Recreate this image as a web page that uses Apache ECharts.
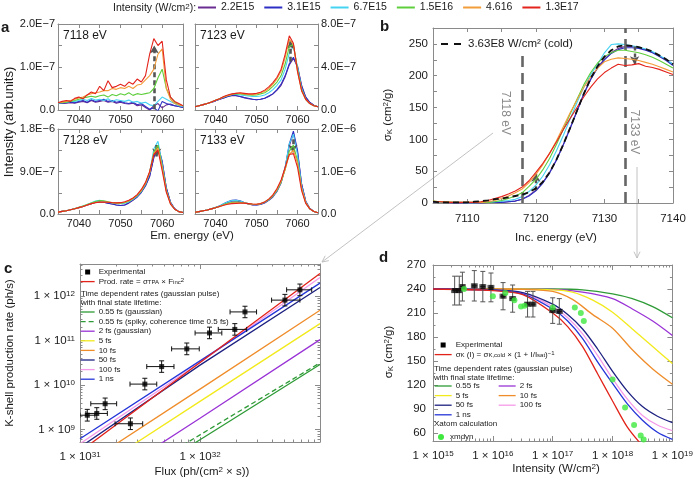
<!DOCTYPE html>
<html><head><meta charset="utf-8">
<script src="https://cdn.jsdelivr.net/npm/echarts@6/dist/echarts.min.js"></script>
<style>html,body{margin:0;padding:0;background:#fff}#c{width:696px;height:482px}</style>
</head><body><div id="c"></div><script>
// ================= DATA =================
const intensityNames = ['2.2E15','3.1E15','6.7E15','1.5E16','4.616','1.3E17'];
const emEnergy = [7035,7036,7037,7038,7039,7040,7041,7042,7043,7044,7045,7046,7047,7048,7049,7050,7051,7052,7053,7054,7055,7056,7057,7058,7059,7060,7061,7062,7063,7064,7065];
const specUnit = 1e-7;
// rows follow intensityNames order; values in units of specUnit
const spec7118 = [
 [0.15,0.15,0.16,0.17,0.16,0.18,0.2,0.17,0.22,0.18,0.2,0.22,0.18,0.2,0.16,0.18,0.15,0.14,0.16,0.1,0.12,0.06,0.0,0.1,0.15,0.05,0.12,0.14,0.1,0.08,0.06],
 [0.15,0.16,0.17,0.18,0.17,0.2,0.22,0.18,0.24,0.2,0.22,0.25,0.2,0.22,0.18,0.2,0.17,0.15,0.18,0.12,0.15,0.08,0.02,0.05,-0.02,0.2,0.15,0.12,0.1,0.08,0.06],
 [0.16,0.17,0.18,0.2,0.2,0.22,0.25,0.22,0.27,0.23,0.25,0.22,0.26,0.2,0.24,0.22,0.2,0.23,0.18,0.2,0.16,0.18,0.12,0.1,0.2,0.3,0.25,0.2,0.15,0.1,0.08],
 [0.17,0.17,0.18,0.2,0.22,0.25,0.28,0.3,0.32,0.3,0.33,0.35,0.3,0.36,0.33,0.38,0.35,0.4,0.34,0.38,0.36,0.38,0.4,0.5,0.75,0.95,0.5,0.3,0.18,0.12,0.1],
 [0.17,0.18,0.2,0.22,0.25,0.28,0.3,0.35,0.38,0.4,0.42,0.45,0.45,0.5,0.48,0.52,0.5,0.55,0.5,0.58,0.6,0.7,0.8,0.95,1.3,1.42,0.5,0.25,0.15,0.12,0.1],
 [0.17,0.2,0.22,0.2,0.27,0.3,0.26,0.35,0.42,0.38,0.55,0.45,0.68,0.52,0.55,0.6,0.55,0.65,0.6,0.72,0.65,0.8,1.3,1.66,1.5,1.6,0.7,0.3,0.2,0.15,0.1]
];
const spec7123 = [
 [0.3,0.4,0.5,0.6,0.72,0.85,1.0,1.12,1.25,1.35,1.33,1.25,1.15,1.05,1.0,0.95,1.0,1.1,1.25,1.5,1.85,2.3,3.1,4.2,4.8,4.1,2.3,1.2,0.7,0.45,0.3],
 [0.3,0.4,0.5,0.6,0.72,0.85,1.0,1.12,1.25,1.35,1.35,1.25,1.15,1.1,1.0,0.95,1.0,1.1,1.3,1.5,1.9,2.4,3.2,4.3,4.9,4.0,2.2,1.2,0.7,0.45,0.3],
 [0.3,0.4,0.5,0.6,0.75,0.9,1.05,1.2,1.35,1.45,1.45,1.4,1.35,1.3,1.25,1.25,1.3,1.4,1.6,1.9,2.3,2.8,3.8,5.3,5.9,4.0,2.0,1.0,0.6,0.4,0.3],
 [0.3,0.4,0.5,0.6,0.75,0.9,1.05,1.2,1.35,1.45,1.5,1.5,1.45,1.4,1.38,1.4,1.5,1.6,1.85,2.2,2.6,3.2,4.3,5.9,6.1,3.8,1.9,1.0,0.6,0.4,0.3],
 [0.3,0.4,0.5,0.6,0.75,0.9,1.05,1.2,1.35,1.45,1.55,1.55,1.5,1.45,1.45,1.5,1.6,1.75,2.0,2.4,2.9,3.6,4.9,6.6,6.1,3.6,1.8,1.0,0.6,0.4,0.3],
 [0.3,0.4,0.5,0.6,0.75,0.9,1.05,1.25,1.4,1.5,1.55,1.6,1.55,1.5,1.5,1.55,1.65,1.85,2.15,2.55,3.05,3.8,5.2,6.9,6.2,3.6,1.8,1.0,0.6,0.4,0.3]
];
const spec7128 = [
 [0.4,0.55,0.7,0.9,1.1,1.35,1.6,1.9,2.2,2.45,2.55,2.5,2.3,2.1,1.9,1.8,1.9,2.3,2.9,3.6,4.6,6.0,8.0,12.0,14.2,11.0,5.5,2.5,1.1,0.5,0.3],
 [0.4,0.55,0.7,0.9,1.1,1.35,1.6,1.9,2.2,2.5,2.6,2.5,2.3,2.1,1.9,1.8,1.9,2.4,3.0,3.6,4.6,6.0,8.0,12.0,14.6,11.2,5.5,2.5,1.1,0.5,0.3],
 [0.4,0.55,0.7,0.9,1.1,1.4,1.7,2.0,2.4,2.75,2.9,2.7,2.5,2.35,2.2,2.2,2.3,2.6,3.1,3.8,4.8,6.3,8.8,13.8,15.4,10.5,5.0,2.3,1.0,0.5,0.3],
 [0.4,0.55,0.7,0.9,1.1,1.4,1.7,2.0,2.35,2.65,2.85,2.8,2.6,2.4,2.3,2.3,2.4,2.7,3.2,3.9,4.9,6.4,8.8,13.0,14.6,10.2,5.0,2.2,1.0,0.5,0.3],
 [0.4,0.55,0.7,0.9,1.1,1.35,1.6,1.9,2.2,2.45,2.55,2.55,2.5,2.4,2.35,2.35,2.5,2.8,3.3,4.0,5.0,6.5,8.8,12.8,14.0,9.8,4.8,2.2,1.0,0.5,0.3],
 [0.4,0.55,0.7,0.9,1.1,1.35,1.6,1.9,2.2,2.4,2.5,2.55,2.5,2.4,2.35,2.4,2.6,2.9,3.4,4.1,5.2,6.7,9.0,12.6,13.5,9.2,4.6,2.1,1.0,0.5,0.3]
];
const spec7133 = [
 [0.4,0.55,0.75,0.95,1.2,1.5,1.85,2.3,2.7,3.0,3.05,2.9,2.6,2.35,2.15,2.1,2.25,2.6,3.2,4.0,5.3,7.3,10.8,16.0,19.0,14.5,7.0,3.0,1.3,0.6,0.3],
 [0.4,0.55,0.75,0.95,1.2,1.5,1.9,2.4,2.9,3.2,3.3,3.1,2.7,2.4,2.2,2.15,2.3,2.7,3.3,4.2,5.5,7.5,11.0,16.5,19.5,15.0,7.0,3.0,1.3,0.6,0.3],
 [0.4,0.55,0.75,0.95,1.2,1.5,1.9,2.4,2.85,3.15,3.2,3.05,2.7,2.45,2.25,2.2,2.35,2.75,3.35,4.2,5.5,7.5,11.0,16.5,18.8,14.0,6.5,2.8,1.2,0.6,0.3],
 [0.4,0.55,0.75,0.95,1.2,1.5,1.8,2.2,2.5,2.7,2.8,2.75,2.6,2.45,2.3,2.25,2.4,2.8,3.4,4.3,5.6,7.5,10.5,14.8,16.2,12.5,6.0,2.7,1.2,0.6,0.3],
 [0.4,0.55,0.75,0.95,1.2,1.45,1.75,2.1,2.35,2.55,2.6,2.6,2.55,2.45,2.35,2.3,2.45,2.85,3.5,4.4,5.8,7.7,10.5,14.0,15.0,12.0,6.0,2.7,1.2,0.6,0.3],
 [0.4,0.55,0.75,0.95,1.2,1.45,1.75,2.05,2.3,2.45,2.5,2.55,2.55,2.45,2.35,2.3,2.45,2.85,3.5,4.5,6.0,8.0,11.0,14.0,14.2,11.0,5.5,2.5,1.2,0.6,0.3]
];
const aPanelNames = ['7118 eV','7123 eV','7128 eV','7133 eV'];
const aYMax = [2e-7, 8e-7, 1.8e-6, 2e-6];
const aYTicks = [[0,1e-7,2e-7],[0,4e-7,8e-7],[0,9e-7,1.8e-6],[0,1e-6,2e-6]];
const aYTickLabels = [['0.0','1.0E\u22127','2.0E\u22127'],['0.0','4.0E\u22127','8.0E\u22127'],['0.0','9.0E\u22127','1.8E\u22126'],['0.0','1.0E\u22126','2.0E\u22126']];
const aXTicks = [7040,7050,7060];
const aArrows = [[7058.1,0.02e-7,1.5e-7],[7058.3,4.5e-7,6.4e-7],[7058.7,14.6e-7,12.2e-7],[7058.9,17.6e-7,14.4e-7]];

const incEnergy = [7105,7106,7107,7108,7109,7110,7111,7112,7113,7114,7115,7116,7117,7118,7119,7120,7121,7122,7123,7124,7125,7126,7127,7128,7129,7130,7131,7132,7133,7134,7135,7136,7137,7138,7139,7140];
const xasIntensity = [
 [1,1,1,0,0,0,0,0,1,1,1,2,3,6,12,20,32,48,68,92,118,145,172,195,213,226,236,243,246,246,244,241,237,231,225,218],
 [1,1,1,0,0,0,0,0,1,1,1,2,3,6,11,19,31,47,67,91,117,144,171,194,212,225,235,241,244,244,243,240,236,230,224,216],
 [2,1,1,1,1,0,0,1,1,2,3,4,6,10,18,28,42,60,82,106,132,158,182,202,218,236,249,250,249,247,245,242,238,232,226,218],
 [3,2,2,1,1,1,1,1,1,2,4,7,11,16,26,37,52,70,92,116,140,163,186,205,220,230,236,240,240,238,236,233,229,224,218,212],
 [3,2,2,1,1,1,1,1,2,4,7,11,16,22,32,45,60,78,98,120,142,162,182,198,212,222,226,228,227,226,224,221,218,214,210,206],
 [2,2,1,1,1,1,1,2,4,7,10,14,19,25,35,48,62,78,96,115,133,150,167,182,195,205,212,218,216,217,219,215,213,210,206,202]
];
const xasCold = [2,1,1,1,1,1,2,3,4,6,7,9,11,13,17,23,33,48,68,92,118,145,172,196,215,230,240,246,248,247,245,242,238,232,226,218];
const coldName = '3.63E8 W/cm\u00b2 (cold)';
const bXTicks = [7110,7120,7130,7140];
const bYTicks = [0,50,100,150,200,250];
const bMarkers = [[7118,237],[7133,275]];
const bArrows = [[7120,20,46],[7134.4,246,218]];

const cFlux   = [1.15e31,1.38e31,1.62e31,2.63e31,3.47e31,4.79e31,7.76e31,1.2e32,1.95e32,2.37e32,5.1e32,6.8e32];
const cFluxLo = [1.0e31,1.12e31,1.23e31,1.96e31,2.61e31,3.6e31,5.8e31,9.1e31,1.42e32,1.78e32,3.95e32,5.27e32];
const cFluxHi = [1.33e31,1.69e31,2.02e31,3.33e31,4.36e31,6.07e31,9.86e31,1.52e32,2.45e32,2.96e32,6.8e32,8.53e32];
const cRate   = [2.1e9,2.3e9,3.8e9,1.35e9,1.05e10,2.6e10,6.5e10,1.48e11,1.78e11,4.4e11,8.1e11,1.38e12];
const cRateLo = [1.55e9,1.7e9,2.8e9,1.0e9,7.8e9,1.93e10,4.8e10,1.1e11,1.32e11,3.26e11,6.0e11,1.02e12];
const cRateHi = [2.84e9,3.1e9,5.1e9,1.82e9,1.42e10,3.5e10,8.8e10,2.0e11,2.4e11,5.9e11,1.09e12,1.86e12];
const cLineNames = ['0.55 fs (gaussian)','0.55 fs (spiky, coherence time 0.5 fs)','2 fs (gaussian)','5 fs','10 fs','100 fs','50 fs','1 ns','Prod. rate'];
const cLines = [
 [[1e31,1.2e7],[1e32,5.9e8],[1e33,2.9e10]],
 [[1e31,1.8e7],[1e32,7.6e8],[1e33,3.16e10]],
 [[1e31,3.2e7],[1e32,1.8e9],[1e33,1.05e11]],
 [[1e31,7.6e7],[1e32,4.3e9],[1e33,2.4e11]],
 [[1e31,1.4e8],[1e32,8.1e9],[1e33,4.8e11]],
 [[1e31,4.8e8],[1e32,3.2e10],[1e33,2.6e12]],
 [[1e31,4.0e8],[1e32,2.8e10],[1e33,1.55e12]],
 [[1e31,6.2e8],[1e32,3.5e10],[1e33,1.95e12]],
 [[1e31,3.2e8],[1e32,3.2e10],[1e33,3.2e12]]
];
const cXTicks = [1e31,1e32,1e33];
const cYTicks = [1e9,1e10,1e11,1e12];

const dInt   = [2.3e15,2.75e15,3.1e15,4.9e15,6.8e15,9.3e15,1.48e16,2.14e16,3.8e16,4.68e16,1.0e17,1.29e17];
const dIntLo = [2.05e15,2.45e15,2.76e15,4.38e15,6.07e15,8.3e15,1.32e16,1.91e16,3.39e16,4.18e16,8.9e16,1.15e17];
const dIntHi = [2.58e15,3.08e15,3.46e15,5.49e15,7.6e15,1.04e16,1.66e16,2.4e16,4.26e16,5.24e16,1.12e17,1.45e17];
const dSigma = [238,238,243,244,243,242,231,228,221,221,213,212];
const dSigmaErr = [18,18,18,19,19,18,17,17,16,16,16,16];
const xmdynInt = [3.3e15,1.0e16,1.62e16,2.29e16,2.95e16,3.39e16,1.0e17,2.34e17,2.95e17,3.31e17,1.0e18,1.62e18,2.29e18,2.95e18,3.31e18];
const xmdynSigma = [240,231,235,226,218,219,217,217,210,200,127,92,70,57,52];
const dLineNames = ['0.55 fs','2 fs','5 fs','10 fs','100 fs','50 fs','1 ns','sigmaK'];
const dLines = [
 [[1e15,240],[1e16,240],[1e17,240],[3.16e17,239],[1e18,234],[2.14e18,228],[4.68e18,218],[1e19,204]],
 [[1e15,240],[1e16,240],[1e17,239.5],[3.16e17,236],[1e18,228],[2.14e18,215],[4.68e18,200],[1e19,182]],
 [[1e15,240],[1e16,240],[1e17,239],[2.14e17,236],[4.68e17,226],[1e18,211],[2.14e18,190],[4.68e18,168],[1e19,147]],
 [[1e15,240],[1e16,240],[3.16e16,239.5],[1e17,237],[2.14e17,227],[4.68e17,208],[1e18,191],[2.14e18,164],[4.68e18,140],[1e19,121]],
 [[1e15,240],[1e16,239],[3.16e16,235],[1e17,218],[1.78e17,204],[3.16e17,184],[5.62e17,157],[1e18,128],[1.78e18,102],[3.16e18,82],[5.62e18,70],[1e19,63]],
 [[1e15,240],[1e16,239],[3.16e16,235.5],[1e17,221],[1.78e17,208],[3.16e17,190],[5.62e17,165],[1e18,137],[1.78e18,112],[3.16e18,93],[5.62e18,81],[1e19,73]],
 [[1e15,240],[1e16,238.5],[3.16e16,234],[1e17,215],[1.78e17,200],[3.16e17,178],[5.62e17,149],[1e18,122],[1.78e18,96],[3.16e18,76],[5.62e18,61],[1e19,52]],
 [[1e15,240],[1e16,238],[3.16e16,233],[1e17,210],[1.78e17,193],[3.16e17,168],[5.62e17,134],[1e18,100],[1.78e18,67],[3.16e18,44]]
];
const dXTicks = [1e15,1e16,1e17,1e18,1e19];
const dYTicks = [60,90,120,150,180,210,240,270];

// ================= STYLE =================
const FONT = '"Liberation Sans", Arial, sans-serif';
const TXT = '#1a1a1a';
const AX = '#8a8a8a';
const intensityColors = ['#6a2c91','#2d2fc4','#45d3f2','#5fce3c','#f39c3a','#e3231c'];
const lifeColors = {'0.55 fs (gaussian)':'#2e9b36','0.55 fs (spiky, coherence time 0.5 fs)':'#2e9b36','2 fs (gaussian)':'#9a33d6','5 fs':'#f2ea1c','10 fs':'#ef8d2b','50 fs':'#1d2180','100 fs':'#f59ae8','1 ns':'#2536d8','Prod. rate':'#e2231a','0.55 fs':'#2e9b36','2 fs':'#9a33d6','sigmaK':'#e2231a'};
const grids = [
 {left:58, top:24, width:125, height:86},
 {left:195, top:24, width:123, height:86},
 {left:58, top:129, width:125, height:85},
 {left:195, top:129, width:123, height:85},
 {left:433, top:28, width:240, height:175},
 {left:80, top:264, width:240, height:178},
 {left:433, top:265, width:240, height:176}
];
function richSmall(fs){ return {
  sup:{fontSize:fs, verticalAlign:'top', fontFamily:FONT, color:TXT},
  sub:{fontSize:fs, verticalAlign:'bottom', fontFamily:FONT, color:TXT}
};}

const xAxes=[], yAxes=[];
function range(a,b,s){const r=[];for(let v=a;v<=b+1e-12;v+=s)r.push(+v.toPrecision(8));return r;}
function logMinor(e0,e1){const r=[];for(let e=e0;e<=e1;e++)for(let m=2;m<=9;m++)r.push(m*Math.pow(10,e));return r;}
const plainFmt = v => String(Math.round(v));
function mkAxis(g,pos,o,labels){
  return {
    gridIndex:g, type:o.type||'value', position:pos, min:o.min, max:o.max,
    axisLine:{show:true,onZero:false,lineStyle:{color:AX,width:1}},
    axisTick:{show:true,inside:true,length:o.tickLen||4,customValues:o.tickVals,lineStyle:{color:AX,width:1}},
    minorTick:{show:false}, splitLine:{show:false},
    axisLabel: labels ? {show:true,customValues:o.labelVals,formatter:o.fmt||plainFmt,fontSize:o.fs||11,color:TXT,fontFamily:FONT,margin:o.margin==null?5:o.margin,rich:o.rich} : {show:false}
  };
}
function mkMinor(g,pos,o){
  return {gridIndex:g,type:o.type||'value',position:pos,min:o.min,max:o.max,
    axisLine:{show:false}, axisTick:{show:true,inside:true,length:2.5,customValues:o.minorVals,lineStyle:{color:AX,width:1}},
    splitLine:{show:false}, axisLabel:{show:false}};
}
function addBox(g,xo,yo){
  const xi=xAxes.length;
  xAxes.push(mkAxis(g,'bottom',xo,true)); xAxes.push(mkAxis(g,'top',xo,false));
  if(xo.minorVals){xAxes.push(mkMinor(g,'bottom',xo)); xAxes.push(mkMinor(g,'top',xo));}
  const yi=yAxes.length;
  const side=yo.side||'left', other=side==='left'?'right':'left';
  yAxes.push(mkAxis(g,side,yo,true)); yAxes.push(mkAxis(g,other,yo,false));
  if(yo.minorVals){yAxes.push(mkMinor(g,side,yo)); yAxes.push(mkMinor(g,other,yo));}
  return [xi,yi];
}
function pick(vals,labels){return v=>{let k=0,b=Infinity;vals.forEach((t,i)=>{const d=Math.abs(t-v);if(d<b){b=d;k=i;}});return labels[k];};}
const powFmt = v => '1 \u00d7 10{sup|' + Math.round(Math.log10(v)) + '}';
const tickRich = {sup:{fontSize:8,verticalAlign:'top',fontFamily:FONT,color:TXT,lineHeight:8}};

const series=[];
// ---- panel a ----
const aSpecs=[spec7118,spec7123,spec7128,spec7133];
aSpecs.forEach((spec,p)=>{
  const [xi,yi]=addBox(p,
    {min:7035,max:7065,labelVals:aXTicks,tickVals:range(7035,7065,5),margin:4,fs:11},
    {min:0,max:aYMax[p],labelVals:aYTicks[p],tickVals:range(0,aYMax[p],aYMax[p]/4),fmt:pick(aYTicks[p],aYTickLabels[p]),side:(p%2===1?'right':'left'),margin:3,fs:11});
  spec.forEach((row,i)=>{
    const s={type:'line',name:intensityNames[i],xAxisIndex:xi,yAxisIndex:yi,symbol:'none',
      data:emEnergy.map((x,k)=>[x,row[k]*specUnit]),
      lineStyle:{width:1.1,color:intensityColors[i]},itemStyle:{color:intensityColors[i]},z:2+i,silent:true};
    if(i===5){
      const ar=aArrows[p];
      s.markLine={silent:true,symbol:['none','arrow'],symbolSize:[7,8],label:{show:false},
        lineStyle:{color:'#555',width:2.6,type:[5,3]},data:[[{coord:[ar[0],ar[1]]},{coord:[ar[0],ar[2]]}]]};
    }
    series.push(s);
  });
});
// ---- panel b ----
(function(){
  const [xi,yi]=addBox(4,
    {min:7105,max:7140,labelVals:bXTicks,tickVals:range(7105,7140,5),margin:10,fs:11.5},
    {min:0,max:275,labelVals:bYTicks,tickVals:range(0,275,25),margin:5,fs:11.5});
  xasIntensity.forEach((row,i)=>{
    series.push({type:'line',name:intensityNames[i],xAxisIndex:xi,yAxisIndex:yi,symbol:'none',
      data:incEnergy.map((x,k)=>[x,row[k]]),lineStyle:{width:1.1,color:intensityColors[i]},itemStyle:{color:intensityColors[i]},z:2+i,silent:true});
  });
  series.push({type:'line',name:coldName,xAxisIndex:xi,yAxisIndex:yi,symbol:'none',
    data:incEnergy.map((x,k)=>[x,xasCold[k]]),lineStyle:{width:1.8,color:'#111',type:[6,4]},itemStyle:{color:'#111'},z:9,silent:true,
    markLine:{silent:true,symbol:'none',label:{show:false},lineStyle:{color:'#666',width:2.6,type:[11,6]},
      data:bMarkers.map(m=>[{coord:[m[0],0]},{coord:[m[0],m[1]]}])}});
  series.push({type:'line',name:'b-arrows',xAxisIndex:xi,yAxisIndex:yi,symbol:'none',data:[],silent:true,
    markLine:{silent:true,symbol:['none','arrow'],symbolSize:[7,8],label:{show:false},lineStyle:{color:'#555',width:2.4,type:[4,3]},
      data:bArrows.map(a=>[{coord:[a[0],a[1]]},{coord:[a[0],a[2]]}])}, z:10});
})();
// error bars renderer
function errBars(color){
  return function(params,api){
    const x=api.value(0),y=api.value(1),xl=api.value(2),xh=api.value(3),yl=api.value(4),yh=api.value(5);
    const a=api.coord([xl,y]),b=api.coord([xh,y]),c=api.coord([x,yl]),d=api.coord([x,yh]);
    const st={stroke:color,lineWidth:1};
    const cap=2.5;
    return {type:'group',children:[
      {type:'line',shape:{x1:a[0],y1:a[1],x2:b[0],y2:b[1]},style:st},
      {type:'line',shape:{x1:a[0],y1:a[1]-cap,x2:a[0],y2:a[1]+cap},style:st},
      {type:'line',shape:{x1:b[0],y1:b[1]-cap,x2:b[0],y2:b[1]+cap},style:st},
      {type:'line',shape:{x1:c[0],y1:c[1],x2:d[0],y2:d[1]},style:st},
      {type:'line',shape:{x1:c[0]-cap,y1:c[1],x2:c[0]+cap,y2:c[1]},style:st},
      {type:'line',shape:{x1:d[0]-cap,y1:d[1],x2:d[0]+cap,y2:d[1]},style:st}
    ]};
  };
}
// ---- panel c ----
(function(){
  const [xi,yi]=addBox(5,
    {type:'log',min:1e31,max:1e33,labelVals:cXTicks,tickVals:cXTicks,minorVals:logMinor(31,32),fmt:powFmt,rich:tickRich,margin:9,fs:11.5,tickLen:5},
    {type:'log',min:5.25e8,max:5.25e12,labelVals:cYTicks,tickVals:cYTicks,minorVals:logMinor(8,12).filter(v=>v>5.25e8&&v<5.25e12),fmt:powFmt,rich:tickRich,margin:5,fs:11.5,tickLen:5});
  cLines.forEach((ln,i)=>{
    const nm=cLineNames[i];
    series.push({type:'line',name:nm,xAxisIndex:xi,yAxisIndex:yi,symbol:'none',data:ln,clip:true,silent:true,
      lineStyle:{width:1.3,color:lifeColors[nm],type:(nm.indexOf('spiky')>=0?[5,3]:'solid')},itemStyle:{color:lifeColors[nm]},z:3});
  });
  series.push({type:'custom',name:'c-err',xAxisIndex:xi,yAxisIndex:yi,renderItem:errBars('#111'),
    data:cFlux.map((x,k)=>[x,cRate[k],cFluxLo[k],cFluxHi[k],cRateLo[k],cRateHi[k]]),encode:{x:0,y:1},z:5,silent:true,clip:true});
  series.push({type:'scatter',name:'Experimental',xAxisIndex:xi,yAxisIndex:yi,symbol:'rect',symbolSize:5,
    data:cFlux.map((x,k)=>[x,cRate[k]]),itemStyle:{color:'#000'},z:6,silent:true});
})();
// ---- panel d ----
(function(){
  const [xi,yi]=addBox(6,
    {type:'log',min:1e15,max:1e19,labelVals:dXTicks,tickVals:dXTicks,minorVals:logMinor(15,18),fmt:powFmt,rich:tickRich,margin:9,fs:11.5,tickLen:5},
    {min:50,max:270,labelVals:dYTicks,tickVals:dYTicks,minorVals:range(75,255,30),margin:7,fs:11.5,tickLen:5});
  dLines.forEach((ln,i)=>{
    const nm=dLineNames[i];
    series.push({type:'line',name:nm,xAxisIndex:xi,yAxisIndex:yi,symbol:'none',data:ln,smooth:0.3,clip:true,silent:true,
      lineStyle:{width:1.3,color:lifeColors[nm]},itemStyle:{color:lifeColors[nm]},z:3});
  });
  series.push({type:'custom',name:'d-err',xAxisIndex:xi,yAxisIndex:yi,renderItem:errBars('#555'),
    data:dInt.map((x,k)=>[x,dSigma[k],dIntLo[k],dIntHi[k],dSigma[k]-dSigmaErr[k],dSigma[k]+dSigmaErr[k]]),encode:{x:0,y:1},z:5,silent:true,clip:true});
  series.push({type:'scatter',name:'Experimental',xAxisIndex:xi,yAxisIndex:yi,symbol:'rect',symbolSize:5,
    data:dInt.map((x,k)=>[x,dSigma[k]]),itemStyle:{color:'#000'},z:6,silent:true});
  series.push({type:'scatter',name:'xmdyn',xAxisIndex:xi,yAxisIndex:yi,symbol:'circle',symbolSize:6,
    data:xmdynInt.map((x,k)=>[x,xmdynSigma[k]]),itemStyle:{color:'#3ee83e'},z:7,silent:true});
})();

// ================= LEGENDS =================
const smallFS=8;
const legRich = richSmall(6);
function legFmt(n){
  if(n==='Prod. rate') return 'Prod. rate = \u03c3{sub|TPA} \u00d7 F{sub|inc}{sup|2}';
  if(n==='sigmaK') return '\u03c3{sub|K} (I) = \u03c3{sub|K,cold} \u00d7 (1 + I/I{sub|sat}){sup|\u22121}';
  return n;
}
const SQUARE = 'path://M0,0h10v10h-10z';
const HIDE = {opacity:0};
const SHOW = {opacity:1};
const legBase = {selectedMode:false, orient:'vertical', itemWidth:14, itemHeight:5, padding:0, itemStyle:HIDE,
  lineStyle:{width:1.3},
  textStyle:{fontSize:smallFS,fontFamily:FONT,color:TXT,rich:legRich,padding:[0,0,0,-1]}, formatter:legFmt};
const legends = [
  {selectedMode:false, left:197, top:2, itemWidth:18, itemHeight:10, itemGap:9, padding:0, itemStyle:HIDE, data:intensityNames,
   textStyle:{fontSize:10.5,fontFamily:FONT,color:TXT}},
  {selectedMode:false, left:440, top:38, itemWidth:22, itemHeight:10, padding:0, itemStyle:HIDE, lineStyle:{width:2,type:[7,6]}, data:[coldName],
   textStyle:{fontSize:11.5,fontFamily:FONT,color:TXT}},
  Object.assign({}, legBase, {left:80, top:268, itemGap:1.6, data:[{name:'Experimental',icon:SQUARE,itemStyle:SHOW},'Prod. rate']}),
  Object.assign({}, legBase, {left:80, top:308, itemGap:1.6, data:['0.55 fs (gaussian)','0.55 fs (spiky, coherence time 0.5 fs)','2 fs (gaussian)','5 fs','10 fs','50 fs','100 fs','1 ns']}),
  Object.assign({}, legBase, {left:434, top:341, itemWidth:17, itemGap:1.6, data:[{name:'Experimental',icon:SQUARE,itemStyle:SHOW},'sigmaK']}),
  Object.assign({}, legBase, {left:434, top:382, itemWidth:17, itemGap:1.6, data:['0.55 fs','5 fs','50 fs','1 ns']}),
  Object.assign({}, legBase, {left:498, top:382, itemWidth:17, itemGap:1.6, data:['2 fs','10 fs','100 fs']}),
  Object.assign({}, legBase, {left:438, top:433, itemWidth:10, itemHeight:6, data:[{name:'xmdyn',icon:'circle',itemStyle:SHOW}]})
];

// ================= GRAPHIC TEXT =================
function T(x,y,text,o){o=o||{};return {type:'text',x:x,y:y,rotation:o.rot||0,silent:true,z:20,
  style:{text:text,fontSize:o.fs||11.5,fontFamily:FONT,fontWeight:o.bold?'bold':'normal',fill:o.color||TXT,
  align:o.align||'left',verticalAlign:o.va||'middle',rich:o.rich}};}
const titleRich = {sub:{fontSize:8,verticalAlign:'bottom',fontFamily:FONT,fill:TXT,color:TXT},sup:{fontSize:8,verticalAlign:'top',fontFamily:FONT,fill:TXT,color:TXT}};
function arrowHead(x0,y0,x1,y1,len){
  const dx=x1-x0,dy=y1-y0,L=Math.hypot(dx,dy),ux=dx/L,uy=dy/L,ang=0.45;
  const p=(s)=>[x1-len*(ux*Math.cos(s*ang)-uy*Math.sin(s*ang)), y1-len*(uy*Math.cos(s*ang)+ux*Math.sin(s*ang))];
  return {type:'polyline',silent:true,shape:{points:[p(1),[x1,y1],p(-1)]},style:{stroke:'#bbb',lineWidth:0.9,fill:null}};
}
const graphics = [
  T(1,28,'a',{fs:15,bold:true}), T(380,27,'b',{fs:15,bold:true}), T(4,269,'c',{fs:15,bold:true}), T(379,258,'d',{fs:15,bold:true}),
  T(113,8,'Intensity (W/cm{sup|2}):',{fs:10.5,rich:titleRich}),
  T(63,36,aPanelNames[0],{fs:12}), T(200,36,aPanelNames[1],{fs:12}), T(63,141,aPanelNames[2],{fs:12}), T(200,141,aPanelNames[3],{fs:12}),
  T(9,122,'Intensity (arb.units)',{rot:Math.PI/2,align:'center',fs:13}),
  T(192,236,'Em. energy (eV)',{align:'center'}),
  T(556,238,'Inc. energy (eV)',{align:'center'}),
  T(388,115,'\u03c3{sub|K} (cm{sup|2}/g)',{rot:Math.PI/2,align:'center',rich:titleRich}),
  T(505,113,'7118 eV',{rot:-Math.PI/2,align:'center',color:'#8a8a8a',fs:12}),
  T(634,132,'7133 eV',{rot:-Math.PI/2,align:'center',color:'#8a8a8a',fs:12}),
  T(10,353,'K-shell production rate (ph/s)',{rot:Math.PI/2,align:'center'}),
  T(202,472,'Flux (ph/(cm{sup|2} \u00d7 s))',{align:'center',rich:titleRich}),
  T(81,294,'Time dependent rates (gaussian pulse)',{fs:smallFS}),
  T(81,303,'with final state lifetime:',{fs:smallFS}),
  T(389,352,'\u03c3{sub|K} (cm{sup|2}/g)',{rot:Math.PI/2,align:'center',rich:titleRich}),
  T(556,469,'Intensity (W/cm{sup|2})',{align:'center',rich:titleRich}),
  T(434,369,'Time dependent rates (gaussian pulse)',{fs:smallFS}),
  T(434,378,'with final state lifetime:',{fs:smallFS}),
  T(434,424,'Xatom calculation',{fs:smallFS}),
  {type:'line',silent:true,shape:{x1:493,y1:133,x2:322,y2:262},style:{stroke:'#bbb',lineWidth:0.9}},
  arrowHead(493,133,322,262,7),
  {type:'line',silent:true,shape:{x1:637,y1:167,x2:637,y2:258},style:{stroke:'#bbb',lineWidth:0.9}},
  arrowHead(637,167,637,258,7)
];

const chart = echarts.init(document.getElementById('c'));
chart.setOption({
  animation:false, backgroundColor:'#fff',
  grid:grids, xAxis:xAxes, yAxis:yAxes, series:series, legend:legends, graphic:graphics
});
</script></body></html>
